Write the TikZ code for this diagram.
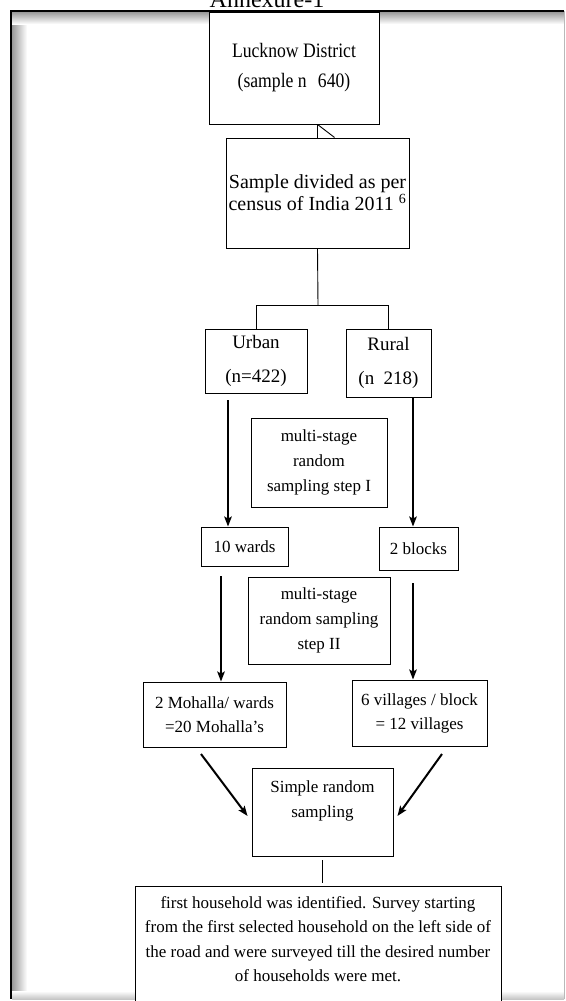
\documentclass[tikz,border=0pt]{standalone}
\usepackage{fontspec}
\setmainfont{Liberation Serif}
\newfontfamily\condfont{Liberation Serif}[FakeStretch=0.86]
\usetikzlibrary{arrows.meta,calc}
\begin{document}
\begin{tikzpicture}[x=1pt,y=-1pt,
  box/.style={draw=black, line width=0.9pt, fill=white, rectangle, inner sep=0pt, align=center},
  thin/.style={line width=0.9pt},
  arr/.style={line width=2pt, -{Stealth[length=10pt,width=7.5pt,inset=2pt]}},
  f17/.style={font=\fontsize{17}{25}\selectfont}]
\useasboundingbox (0,0) rectangle (565,1001);
% page frame with inner shadow
\shade[left color=gray!80, right color=white] (12,12) rectangle (27,999);
\shade[top color=gray!80, bottom color=white] (12,12) rectangle (564,24);
\shade[top color=white, bottom color=gray!45] (12,991) rectangle (564,999);
\draw[line width=1.6pt] (11,999) -- (11,11) -- (564,11);
\draw[gray!55, line width=0.8pt] (564,11) -- (564,999);
% title (cut by page top)
\node[font=\fontsize{24}{24}\selectfont, anchor=base, inner sep=0pt] (title) at (267,7) {Annexure-1};
% boxes
\node[box, minimum width=170pt, minimum height=112pt, font=\condfont\fontsize{20.5}{30}\selectfont] (luck) at (294,68)
  {Lucknow District\\(sample n\hspace{0.55em}640)};
\node[box, minimum width=183pt, minimum height=110pt, font=\fontsize{20}{18}\selectfont] (census) at (317.5,193)
  {Sample divided as per\\census of India 2011 \textsuperscript{6}};
\node[box, minimum width=102pt, minimum height=64pt, font=\fontsize{19}{34}\selectfont] (urban) at (256,361)
  {Urban\\(n=422)};
\node[box, minimum width=85pt, minimum height=68pt, font=\fontsize{19}{34}\selectfont] (rural) at (388.5,363)
  {Rural\\(n\hspace{0.5em}218)};
\node[box, f17, minimum width=136pt, minimum height=89pt] (stepone) at (319,462.5)
  {multi-stage\\random\\sampling step I};
\node[box, f17, minimum width=87pt, minimum height=39pt] (wards) at (244.5,546.5) {10 wards};
\node[box, f17, minimum width=79pt, minimum height=43pt] (blocks) at (418.5,548.5) {2 blocks};
\node[box, f17, minimum width=142pt, minimum height=87pt] (steptwo) at (319,620.5)
  {multi-stage\\random sampling\\step II};
\node[box, font=\fontsize{17}{24}\selectfont, minimum width=143pt, minimum height=65pt] (mohalla) at (214.5,714.5)
  {2 Mohalla/ wards\\=20 Mohalla’s};
\node[box, font=\fontsize{17}{24}\selectfont, minimum width=135pt, minimum height=66pt] (villages) at (419.5,713)
  {6 villages / block\\= 12 villages};
\node[box, minimum width=141pt, minimum height=88pt] (simple) at (322.5,812) {};
\node[f17, align=center, inner sep=0pt] (simpletext) at (322.5,801) {Simple random\\sampling};
\node[box, minimum width=366pt, minimum height=124pt] (final) at (318,948) {};
\node[font=\fontsize{17}{24.6}\selectfont, align=center, inner sep=0pt, anchor=north] (finaltext) at (318,896)
  {first household was identified. Survey starting\\from the first selected household on the left side of\\the road and were surveyed till the desired number\\of households were met.};
% thin connectors
\coordinate (lc) at (census.north |- luck.south);
\draw[thin] (lc) -- (census.north);
\draw[thin] (lc) -- ($(lc)+(17,13)$);
\coordinate (split) at (318,305);
\draw[thin] (census.south) -- (split);
\draw[thin] (urban.north) -- (urban.north |- split) -- (rural.north |- split) -- (rural.north);
\draw[thin] ($(simple.south)+(0,4)$) -- ($(final.north -| simple.south)+(0,-3)$);
% thick arrows
\coordinate (ua) at (228,400);
\coordinate (ra) at (413,397);
\coordinate (ub) at (221,576);
\coordinate (rb) at (413,583);
\draw[arr] (ua) -- (ua |- wards.north);
\draw[arr] (ra) -- (ra |- blocks.north);
\draw[arr] (ub) -- (ub |- mohalla.north);
\draw[arr] (rb) -- (rb |- villages.north);
\coordinate (dl) at (201,754);
\coordinate (dr) at (442,754);
\draw[arr] (dl) -- ($(simple.west)+(-4,4)$);
\draw[arr] (dr) -- ($(simple.east)+(4,4)$);
\end{tikzpicture}
\end{document}
